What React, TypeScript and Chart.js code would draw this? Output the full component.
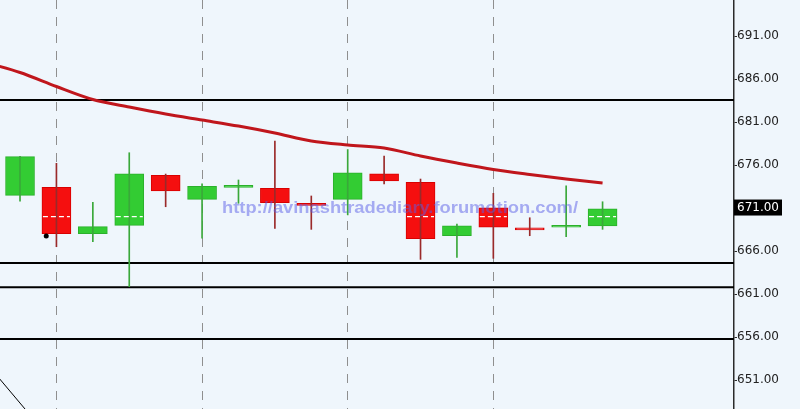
import React, { useEffect, useRef } from "react";
import { Chart, registerables } from "chart.js";

Chart.register(...registerables);

// ---- data ----
const candleIndex = [0, 1, 2, 3, 4, 5, 6, 7, 8, 9, 10, 11, 12, 13, 14, 15, 16];
const opens = [672.48, 673.41, 668.01, 668.99, 674.8, 672.01, 673.4, 673.29, 671.4, 672.01, 674.99, 673.99, 667.78, 671.03, 668.56, 668.76, 668.91];
const closes = [676.97, 668.01, 668.83, 674.99, 672.98, 673.52, 673.55, 671.62, 671.3, 675.1, 674.14, 667.43, 668.94, 668.76, 668.46, 668.88, 670.92];
const highs = [677.0, 676.2, 671.66, 677.43, 674.95, 673.8, 674.26, 678.79, 672.4, 677.8, 677.05, 674.37, 669.14, 672.71, 669.87, 673.59, 671.73];
const lows = [671.81, 666.5, 667.08, 661.85, 671.15, 667.5, 671.55, 668.64, 668.52, 670.2, 673.79, 665.03, 665.27, 665.15, 667.78, 667.66, 668.52];

const maIndex = [-1, 0, 1, 2, 3, 4, 5, 6, 7, 8, 9, 10, 11, 12, 13, 14, 15, 16];
const maValues = [687.98, 686.76, 685.13, 683.62, 682.74, 681.93, 681.23, 680.53, 679.72, 678.79, 678.33, 677.98, 677.05, 676.23, 675.48, 674.9, 674.37, 673.91];

const levelLines = [683.56, 664.6, 661.8, 655.77];
const whiteDashLevel = [670.0];
const trendX = [-1, 0.5];
const trendY = [653.34, 645.81];
const markerX = [0.72];
const markerY = [667.74];

const gridIndex = [1, 5, 9, 13];
const yTicks = [651, 656, 661, 666, 671, 676, 681, 686, 691];
const lastPrice = [671];
const watermark = "http://avinashtradediary.forumotion.com/";

const X_MIN = -0.55;
const X_MAX = 19.61;
const Y_MIN = 647.63;
const Y_MAX = 695.19;

const UP_BODY = "#33cc33";
const UP_BORDER = "#2bb02b";
const DOWN_BODY = "#f50f0f";
const DOWN_BORDER = "#d80000";
const UP_WICK = "#3aa83a";
const DOWN_WICK = "#9a2a2a";
const BG = "#eff6fc";
const BODY_WIDTH = 29;

export default function App() {
  const canvasRef = useRef<HTMLCanvasElement | null>(null);

  useEffect(() => {
    document.body.style.margin = "0";
    const canvas = canvasRef.current;
    if (!canvas) return;

    const isUp = candleIndex.map((_, i) => closes[i] >= opens[i]);

    const bgPlugin = {
      id: "bgFill",
      beforeDraw(chart: any) {
        const ctx = chart.ctx;
        ctx.save();
        ctx.fillStyle = BG;
        ctx.fillRect(0, 0, chart.width, chart.height);
        ctx.restore();
      },
    };

    const whiteDashPlugin = {
      id: "whiteDash",
      afterDatasetsDraw(chart: any) {
        const ctx = chart.ctx;
        const xs = chart.scales.x;
        const ys = chart.scales.y;
        ctx.save();
        ctx.strokeStyle = "#ffffff";
        ctx.lineWidth = 1.2;
        ctx.setLineDash([5, 3]);
        whiteDashLevel.forEach((lvl) => {
          const y = ys.getPixelForValue(lvl);
          candleIndex.forEach((ci, i) => {
            const lo = Math.min(opens[i], closes[i]);
            const hi = Math.max(opens[i], closes[i]);
            if (lvl > lo && lvl < hi) {
              const cx = xs.getPixelForValue(ci);
              ctx.beginPath();
              ctx.moveTo(cx - BODY_WIDTH / 2 + 1, y);
              ctx.lineTo(cx + BODY_WIDTH / 2 - 1, y);
              ctx.stroke();
            }
          });
        });
        ctx.restore();
      },
    };

    const watermarkPlugin = {
      id: "watermark",
      afterDatasetsDraw(chart: any) {
        const ctx = chart.ctx;
        ctx.save();
        ctx.font = "bold 17px 'Liberation Sans', Arial, sans-serif";
        const w = ctx.measureText(watermark).width;
        ctx.fillStyle = "rgba(90, 94, 232, 0.5)";
        ctx.textBaseline = "alphabetic";
        ctx.translate(222, 213);
        ctx.scale(356 / w, 1);
        ctx.fillText(watermark, 0, 0);
        ctx.restore();
      },
    };

    const priceBoxPlugin = {
      id: "priceBox",
      afterDraw(chart: any) {
        const ctx = chart.ctx;
        const yScale = chart.scales.y;
        const x0 = chart.chartArea.right;
        lastPrice.forEach((p) => {
          const y = yScale.getPixelForValue(p);
          ctx.save();
          ctx.fillStyle = "#000000";
          ctx.fillRect(x0, y - 8.5, 48, 16);
          ctx.fillStyle = "#ffffff";
          ctx.font = "12px 'DejaVu Sans', Verdana, sans-serif";
          ctx.textBaseline = "middle";
          ctx.textAlign = "left";
          ctx.fillText(p.toFixed(2), x0 + 3, y);
          ctx.restore();
        });
      },
    };

    const chart = new Chart(canvas, {
      type: "bar",
      data: {
        datasets: [
          ...levelLines.map((v) => ({
            type: "line" as const,
            data: [
              { x: X_MIN - 1, y: v },
              { x: X_MAX + 1, y: v },
            ],
            borderColor: "#000000",
            borderWidth: 2,
            pointRadius: 0,
            order: 6,
          })),
          {
            type: "bar" as const,
            data: candleIndex.map((x, i) => ({ x, y: [opens[i], closes[i]] })),
            backgroundColor: candleIndex.map((_, i) => (isUp[i] ? UP_BODY : DOWN_BODY)),
            borderColor: candleIndex.map((_, i) => (isUp[i] ? UP_BORDER : DOWN_BORDER)),
            borderWidth: 1,
            borderSkipped: false,
            barThickness: BODY_WIDTH,
            minBarLength: 2,
            grouped: false,
            order: 5,
          },
          {
            type: "bar" as const,
            data: candleIndex.map((x, i) => ({ x, y: [lows[i], highs[i]] })),
            backgroundColor: candleIndex.map((_, i) => (isUp[i] ? UP_WICK : DOWN_WICK)),
            borderWidth: 0,
            barThickness: 1,
            grouped: false,
            order: 4,
          },
          {
            type: "line" as const,
            data: maIndex.map((x, i) => ({ x, y: maValues[i] })),
            borderColor: "#c0161c",
            borderWidth: 3,
            pointRadius: 0,
            tension: 0.3,
            order: 2,
          },
          {
            type: "line" as const,
            data: trendX.map((x, i) => ({ x, y: trendY[i] })),
            borderColor: "#000000",
            borderWidth: 1,
            pointRadius: 0,
            order: 2,
          },
          {
            type: "line" as const,
            data: markerX.map((x, i) => ({ x, y: markerY[i] })),
            showLine: false,
            pointRadius: 2.5,
            pointBorderWidth: 0,
            pointBackgroundColor: "#000000",
            pointBorderColor: "#000000",
            order: 1,
          },
        ],
      },
      options: {
        responsive: false,
        animation: false,
        layout: { padding: 0, autoPadding: false },
        plugins: {
          legend: { display: false },
          tooltip: { enabled: false },
        },
        scales: {
          x: {
            type: "linear",
            min: X_MIN,
            max: X_MAX,
            offset: false,
            border: { display: false, dash: [9, 8] },
            ticks: { display: false },
            grid: {
              offset: false,
              drawTicks: false,
              color: "#8f8f8f",
              lineWidth: 1,
            },
            afterBuildTicks(scale: any) {
              scale.ticks = gridIndex.map((v) => ({ value: v }));
            },
            afterFit(scale: any) {
              scale.height = 0;
              scale.paddingLeft = 0;
              scale.paddingRight = 0;
            },
          } as any,
          y: {
            type: "linear",
            position: "right",
            min: Y_MIN,
            max: Y_MAX,
            border: { display: true, color: "#2a2a2a", width: 1.5 },
            grid: {
              drawOnChartArea: false,
              drawTicks: true,
              tickLength: 3,
              color: "#2a2a2a",
            },
            ticks: {
              color: "#222222",
              padding: 0,
              font: { family: "'DejaVu Sans', Verdana, sans-serif", size: 12 },
              callback: (v: any) => Number(v).toFixed(2),
            },
            afterBuildTicks(scale: any) {
              scale.ticks = yTicks.map((v) => ({ value: v }));
            },
            afterFit(scale: any) {
              scale.width = 66;
              scale.paddingTop = 0;
              scale.paddingBottom = 0;
            },
          } as any,
        },
      },
      plugins: [bgPlugin, whiteDashPlugin, watermarkPlugin, priceBoxPlugin],
    } as any);

    return () => {
      chart.destroy();
    };
  }, []);

  return (
    <div style={{ width: 800, height: 409 }}>
      <canvas ref={canvasRef} width={800} height={409} style={{ display: "block" }} />
    </div>
  );
}
